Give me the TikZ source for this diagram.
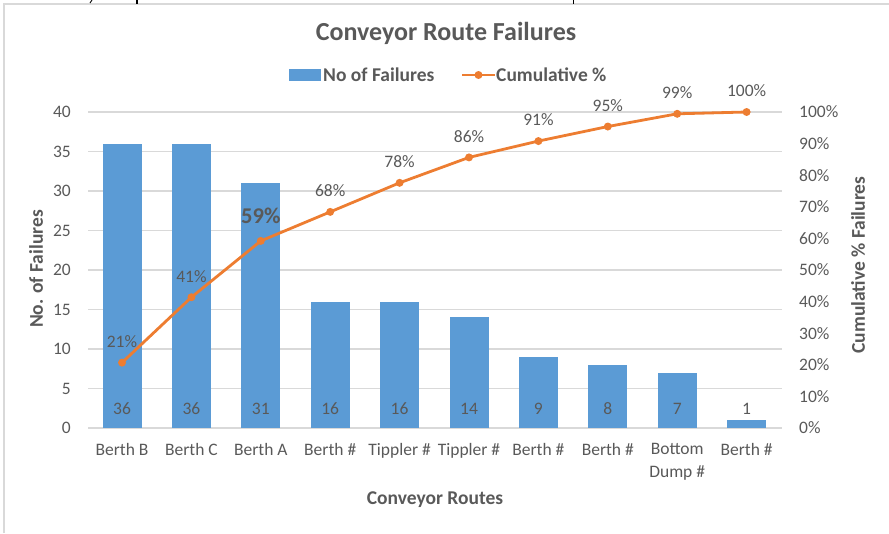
\documentclass[tikz,border=0pt]{standalone}
\usepackage{fontspec}
\setmainfont{Carlito}
\definecolor{barblue}{HTML}{5B9BD5}
\definecolor{lineorange}{HTML}{ED7D31}
\definecolor{gridgray}{HTML}{D9D9D9}
\definecolor{txt}{HTML}{595959}
\begin{document}
\begin{tikzpicture}[x=1pt,y=-1pt,
  lbl/.style={text=txt,font=\fontsize{17.5}{23}\selectfont,inner sep=1pt},
  ttl/.style={text=txt,font=\fontsize{19.5}{22}\selectfont\bfseries,inner sep=1pt},
  gridline/.style={draw=gridgray,line width=1.1pt},
  barbox/.style={fill=barblue,draw=none},
  cumline/.style={draw=lineorange,line width=2.8pt,line join=round},
  dotmark/.style={circle,fill=lineorange,inner sep=0pt,minimum size=8pt}]
\useasboundingbox (0,0) rectangle (889,533);
% outer frame
\draw[draw=gridgray,line width=1.6pt] (4,533) -- (4,4) -- (889,4);
% fragments cut off at the top edge
\draw[black,line width=0.9pt] (90,3) -- (92,0);
\draw[black,line width=1.2pt] (137,0) -- (137,4);
\draw[black,line width=0.9pt] (573,0) -- (573,4);
% title
\node[text=txt,font=\fontsize{26}{30}\selectfont\bfseries] (title) at (446,33) {Conveyor Route Failures};
% legend
\node[barbox,minimum width=32pt,minimum height=12pt,inner sep=0pt] (legbar) at (305,75) {};
\node[ttl,anchor=west] (legbartxt) at (322,75) {No of Failures};
\coordinate (legl1) at (462,75);
\coordinate (legl2) at (495,75);
\draw[draw=lineorange,line width=2.8pt] (legl1) -- (legl2);
\node[dotmark] (legdot) at (478.5,75) {};
\node[ttl,anchor=west] (leglinetxt) at (495,75) {Cumulative \%};
% gridlines and left ticks
\foreach \v in {0,5,...,40} {
  \coordinate (gl\v) at (88,{428-7.9*\v});
  \coordinate (gr\v) at (782,{428-7.9*\v});
  \draw[gridline] (gl\v) -- (gr\v);
  \node[lbl,anchor=east] (ytick\v) at (72,{428-7.9*\v}) {\v};
}
% right ticks
\foreach \p in {0,10,...,100} {
  \node[lbl,anchor=west] (rtick\p) at (798,{428-3.16*\p}) {\p\%};
}
% bars
\foreach \i/\v/\n in {1/36/Berth B,2/36/Berth C,3/31/Berth A,4/16/Berth \#,5/16/Tippler \#,6/14/Tippler \#,7/9/Berth \#,8/8/Berth \#,9/7/Bottom\\Dump \#,10/1/Berth \#} {
  \pgfmathsetmacro{\cx}{122+69.4*(\i-1)}
  \fill[barblue] ({\cx-19.5},428) rectangle ({\cx+19.5},{428-7.9*\v});
  \node[lbl] (val\i) at (\cx,409) {\v};
  \node[lbl,anchor=north,align=center] (cat\i) at (\cx,442) {\n};
}
% cumulative points
\foreach \i/\c in {1/20.69,2/41.38,3/59.20,4/68.39,5/77.59,6/85.63,7/90.80,8/95.40,9/99.43,10/100} {
  \coordinate (p\i) at ({122+69.4*(\i-1)},{428-3.16*\c});
}
\draw[cumline] (p1) -- (p2) -- (p3) -- (p4) -- (p5) -- (p6) -- (p7) -- (p8) -- (p9) -- (p10);
\foreach \i in {1,...,10} \node[dotmark] (d\i) at (p\i) {};
% percentage labels
\foreach \i/\t in {1/21,2/41,4/68,5/78,6/86,7/91,8/95,9/99,10/100} {
  \node[lbl] (pl\i) at ([yshift=21pt]p\i) {\t\%};
}
\node[text=txt,font=\fontsize{22.5}{25}\selectfont\bfseries,inner sep=1pt] (pl3) at ([yshift=25pt]p3) {59\%};
% axis titles
\node[ttl,rotate=90] (ytitle) at (36,269) {No. of Failures};
\node[ttl,rotate=90] (y2title) at (858,265) {Cumulative \% Failures};
\node[ttl] (xtitle) at (435,500) {Conveyor Routes};
\end{tikzpicture}
\end{document}
